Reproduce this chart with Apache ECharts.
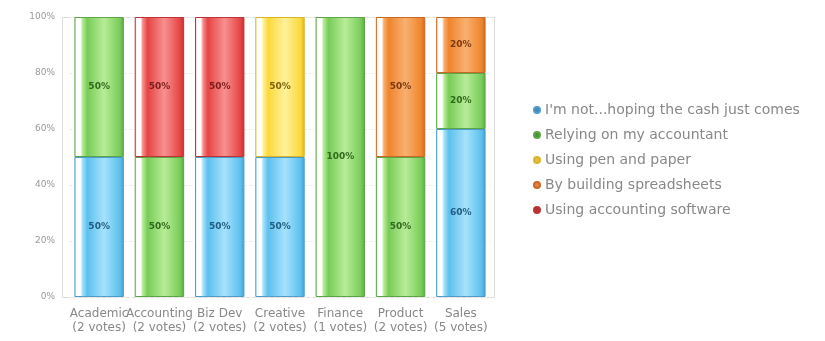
<!DOCTYPE html>
<html><head><meta charset="utf-8">
<script src="https://cdn.jsdelivr.net/npm/echarts@6/dist/echarts.min.js"></script>
<style>html,body{margin:0;padding:0;background:#fff}#c{width:825px;height:341px}</style>
</head><body><div id="c"></div>
<script>
const categories = ["Academic\n(2 votes)","Accounting\n(2 votes)","Biz Dev\n(2 votes)","Creative\n(2 votes)","Finance\n(1 votes)","Product\n(2 votes)","Sales\n(5 votes)"];
const seriesNames = ["I'm not...hoping the cash just comes","Relying on my accountant","Using pen and paper","By building spreadsheets","Using accounting software"];
const notHoping   = [50, null, 50, 50, null, null, 60];
const accountant  = [50, 50, null, null, 100, 50, 20];
const penPaper    = [null, null, null, 50, null, null, null];
const spreadsheet = [null, null, null, null, null, 50, 20];
const software    = [null, 50, 50, null, null, null, null];
const yTicks = [0, 20, 40, 60, 80, 100];

const colors = [
  {base:'#5cc0ee', light:'#a6e2fb', border:'#4b9cc8', label:'#1f5c80', dot:'#4a86b8'},
  {base:'#78cc58', light:'#b8ec98', border:'#5ea448', label:'#2f6a1c', dot:'#4f8f3c'},
  {base:'#fcd83a', light:'#fff29a', border:'#d8b42c', label:'#7a6410', dot:'#e0c040'},
  {base:'#f0842c', light:'#f8b070', border:'#c86a24', label:'#7a3a0e', dot:'#f07a50'},
  {base:'#e64444', light:'#f89090', border:'#bc3434', label:'#7a1c1c', dot:'#b83030'}
];
const dataSets = [notHoping, accountant, penPaper, spreadsheet, software];

function grad(c){
  return new echarts.graphic.LinearGradient(0,0,1,0,[
    {offset:0, color:c.light},
    {offset:0.04, color:'#ffffff'},
    {offset:0.12, color:'#ffffff'},
    {offset:0.16, color:c.light},
    {offset:0.26, color:c.base},
    {offset:0.6, color:c.light},
    {offset:0.92, color:c.base},
    {offset:1, color:c.border}
  ]);
}

const chart = echarts.init(document.getElementById('c'), null, {renderer:'canvas'});
chart.setOption({
  animation:false,
  graphic:[{type:'rect', shape:{x:62.5, y:17.5, width:432, height:280}, style:{fill:null, stroke:'#dcdcdc', lineWidth:1}, silent:true, z:-1}],
  grid:{left:69, right:334, top:17, bottom:44},
  legend:{
    orient:'vertical', left:528, top:98, itemGap:11,
    icon:'circle', itemWidth:6, itemHeight:6,
    textStyle:{color:'#888', fontSize:14, fontFamily:'DejaVu Sans', padding:[0,0,0,0]},
    data: seriesNames.map((n,i)=>({name:n, itemStyle:{color:colors[i].dot}}))
  },
  xAxis:{
    type:'category', data:categories,
    axisLine:{show:false}, axisTick:{show:false},
    axisLabel:{color:'#888', fontSize:12, fontFamily:'DejaVu Sans', interval:0, lineHeight:14, margin:10}
  },
  yAxis:{
    type:'value', min:0, max:100, interval:20,
    axisLabel:{formatter: v => yTicks.includes(v) ? v + '%' : '', color:'#999', fontSize:9, fontFamily:'DejaVu Sans', margin:14},
    splitLine:{lineStyle:{color:'#eee', type:'dashed'}},
    axisLine:{show:false}
  },
  series: seriesNames.map((n,i)=>({
    name:n, type:'bar', stack:'t', barWidth:'82%',
    data: dataSets[i],
    itemStyle:{color:grad(colors[i]), borderColor:colors[i].border, borderWidth:1},
    label:{show:true, position:'inside', formatter:p=>p.value+'%', color:colors[i].label, fontSize:9, fontWeight:'bold', fontFamily:'DejaVu Sans'}
  }))
});
</script></body></html>
